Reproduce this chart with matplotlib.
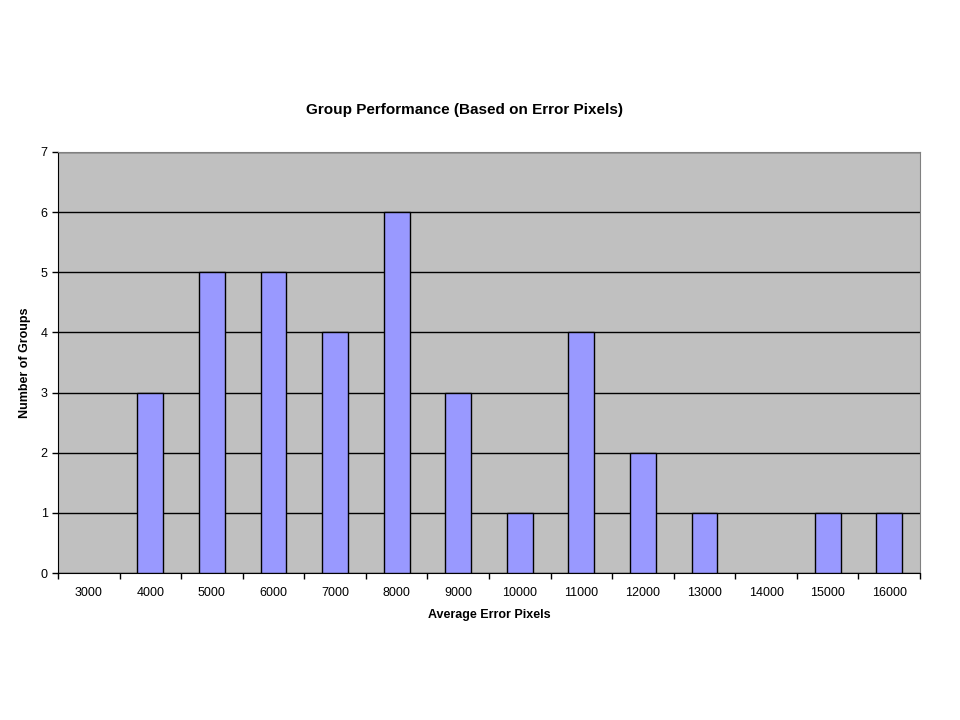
import matplotlib
matplotlib.use('Agg')
import matplotlib.pyplot as plt
import numpy as np

# Data
error_bins = ['3000', '4000', '5000', '6000', '7000', '8000', '9000',
              '10000', '11000', '12000', '13000', '14000', '15000', '16000']
group_counts = [0, 3, 5, 5, 4, 6, 3, 1, 4, 2, 1, 0, 1, 1]

plt.rcParams['font.family'] = ['Liberation Sans', 'DejaVu Sans']

fig = plt.figure(figsize=(9.6, 7.2), dpi=100)
ax = fig.add_axes([58 / 960, 147 / 720, 862 / 960, 421 / 720])
ax.set_facecolor('#c0c0c0')

x = np.arange(len(error_bins))
ax.set_axisbelow(True)
ax.yaxis.grid(True, color='black', linewidth=1)
# empty bins draw nothing, as in Excel
edges = ['black' if c > 0 else 'none' for c in group_counts]
ax.bar(x, group_counts, width=0.42, color='#9999ff', edgecolor=edges,
       linewidth=1, zorder=3)

ax.set_xlim(-0.5, len(error_bins) - 0.5)
ax.set_ylim(0, 7)
ax.set_yticks(range(0, 8))

# ticks between categories, like Excel
ax.set_xticks(x)
ax.set_xticklabels(error_bins, fontsize=9)
ax.tick_params(axis='x', which='major', length=0, pad=10)
ax.set_xticks(np.arange(-0.5, len(error_bins)), minor=True)
ax.tick_params(axis='x', which='minor', length=4, direction='out', width=1)
ax.tick_params(axis='y', labelsize=9, length=4, direction='out', width=1)

for side in ['top', 'right']:
    ax.spines[side].set_color('#808080')
for side in ['left', 'bottom']:
    ax.spines[side].set_color('black')

ax.set_xlabel('Average Error Pixels', fontsize=9, fontweight='bold', labelpad=7)
ax.set_ylabel('Number of Groups', fontsize=9, fontweight='bold', labelpad=7)
fig.text(465 / 960, 1 - 110 / 720, 'Group Performance (Based on Error Pixels)',
         ha='center', va='center', fontsize=11, fontweight='bold')

fig.savefig('out.png', dpi=100)
